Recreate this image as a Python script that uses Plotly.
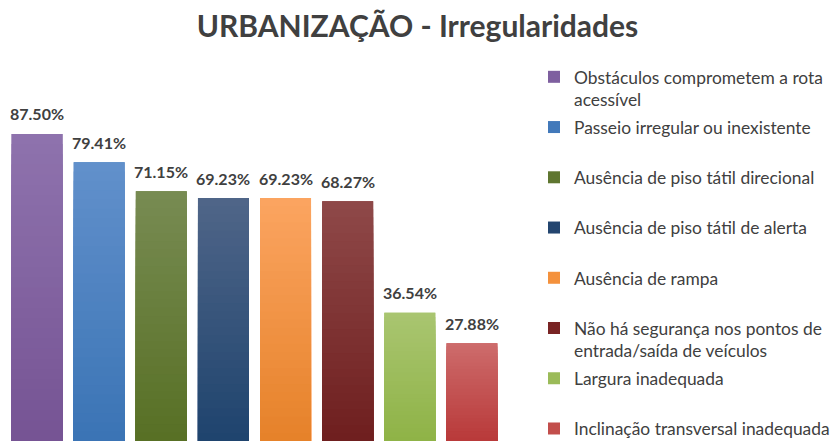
import plotly.graph_objects as go

categories = [
    "Obstáculos comprometem a rota acessível",
    "Passeio irregular ou inexistente",
    "Ausência de piso tátil direcional",
    "Ausência de piso tátil de alerta",
    "Ausência de rampa",
    "Não há segurança nos pontos de entrada/saída de veículos",
    "Largura inadequada",
    "Inclinação transversal inadequada",
]
legend_labels = [
    "Obstáculos comprometem a rota<br>acessível",
    "Passeio irregular ou inexistente<br> ",
    "Ausência de piso tátil direcional<br> ",
    "Ausência de piso tátil de alerta<br> ",
    "Ausência de rampa<br> ",
    "Não há segurança nos pontos de<br>entrada/saída de veículos",
    "Largura inadequada<br> ",
    "Inclinação transversal inadequada",
]
values = [87.50, 79.41, 71.15, 69.23, 69.23, 68.27, 36.54, 27.88]
value_labels = ["87.50%", "79.41%", "71.15%", "69.23%", "69.23%", "68.27%", "36.54%", "27.88%"]

legend_colors = ["#7E5F9F", "#4279BA", "#5F7630", "#23456F", "#F4913C", "#792424", "#9BBB59", "#C24E4B"]
top_colors = ["#8E72AD", "#6190CB", "#778B52", "#4F6588", "#FBA460", "#8E4848", "#A9C570", "#CD6B6B"]
bottom_colors = ["#765494", "#3B74B5", "#587025", "#1F446E", "#E6822A", "#6F1F1F", "#8FB347", "#B93A3A"]


def hex_to_rgb(h):
    h = h.lstrip("#")
    return tuple(int(h[i:i + 2], 16) for i in (0, 2, 4))


def mix(c1, c2, t):
    a, b = hex_to_rgb(c1), hex_to_rgb(c2)
    return "rgb(%d,%d,%d)" % tuple(round(a[i] + (b[i] - a[i]) * t) for i in range(3))


N = 30
fig = go.Figure()
for i, cat in enumerate(categories):
    # base trace (legend entry)
    fig.add_trace(go.Bar(
        x=[cat], y=[values[i]], name=legend_labels[i],
        marker=dict(color=legend_colors[i], line=dict(width=0)),
        legendgroup=cat, showlegend=True, hoverinfo="skip",
    ))
    # gradient layers
    for k in range(N, 0, -1):
        frac = k / N
        t = (N - k) / (N - 1)
        fig.add_trace(go.Bar(
            x=[cat], y=[values[i] * frac],
            marker=dict(color=mix(top_colors[i], bottom_colors[i], t), line=dict(width=0)),
            legendgroup=cat, showlegend=False, hoverinfo="skip",
        ))

annotations = []
for i, cat in enumerate(categories):
    annotations.append(dict(
        x=cat, y=values[i], text="<b>%s</b>" % value_labels[i],
        showarrow=False, yanchor="middle", yshift=20,
        font=dict(family="Lato", size=16, color="#404040"),
    ))

fig.update_layout(
    width=835, height=441,
    margin=dict(l=6, r=332, t=90, b=0),
    paper_bgcolor="white", plot_bgcolor="white",
    barmode="overlay", bargap=0.18,
    title=dict(
        text="<b>URBANIZAÇÃO - Irregularidades</b>",
        x=0.5, xref="container", xanchor="center",
        y=1 - 26 / 441, yref="container", yanchor="middle",
        font=dict(family="Lato", size=30, color="#404040"),
    ),
    xaxis=dict(visible=False, categoryorder="array", categoryarray=categories, range=[-0.5, 7.5]),
    yaxis=dict(visible=False, range=[0, 100]),
    legend=dict(
        x=534 / 835, xref="container", xanchor="left",
        y=1 - 59 / 441, yref="container", yanchor="top",
        valign="top", tracegroupgap=2, itemwidth=30,
        maxheight=1000,
        font=dict(family="Lato", size=17.4, color="#404040"),
        bgcolor="rgba(0,0,0,0)",
    ),
    annotations=annotations,
    showlegend=True,
)

fig.write_html("out.html")
